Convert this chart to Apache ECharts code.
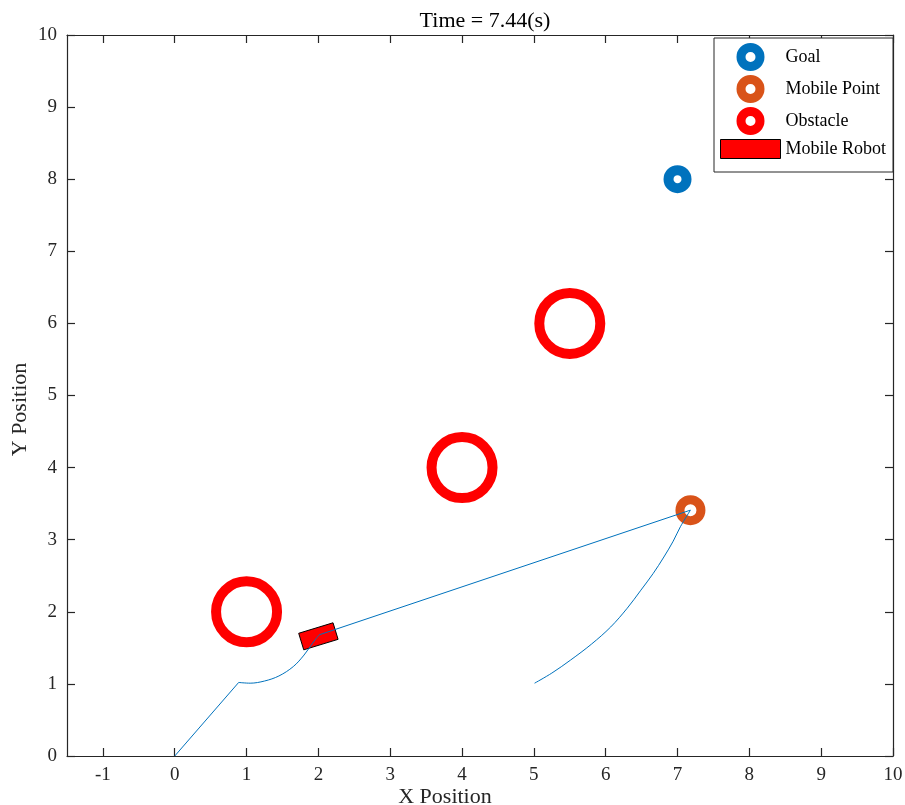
<!DOCTYPE html>
<html lang="en">
<head>
  <meta charset="UTF-8">
  <title>Time = 7.44(s)</title>
  <script type="text/javascript" src="https://cdn.jsdelivr.net/npm/echarts@6/dist/echarts.min.js"></script>
  <style>
    html, body { margin: 0; padding: 0; background: #fff; }
    #target { width: 905px; height: 805px; }
  </style>
</head>
<body>
  <div id="target"></div>
  <script type="text/javascript">
    // data
    const goal = [[7, 8]];
    const mobilePoint = [[7.18, 3.41]];
    const obstacles = [[1, 2], [4, 4], [5.5, 6]];
    // robot: x, y, heading (deg), length, width
    const robot = [[2.0, 1.66, 17, 0.5, 0.24]];
    const robotLeg1 = [[0, 0], [0.89, 1.02]];
    const robotCurve = [[0.89, 1.02], [1.05, 1.01], [1.25, 1.04], [1.45, 1.11], [1.65, 1.24],
      [1.8, 1.4], [1.93, 1.58], [2.01, 1.68]];
    const robotLeg2 = [[2.01, 1.68], [7.18, 3.41]];
    const pointPath = [[5.01, 1.01], [5.25, 1.15], [5.51, 1.33], [5.8, 1.55], [6.07, 1.79],
      [6.3, 2.05], [6.49, 2.3], [6.66, 2.53], [6.81, 2.76], [6.94, 2.98], [7.04, 3.18], [7.18, 3.41]];
    const xMin = -1.5, xMax = 10, xFirstTick = -1;

    const font = 'Liberation Serif';
    const axisColor = '#262626';
    const gridLeft = 67, gridRight = 12;
    // second grid starts where the first integer tick sits
    const plotW = 905 - gridLeft - gridRight;
    const tickGridLeft = gridLeft + (xFirstTick - xMin) / (xMax - xMin) * plotW;

    function renderRobot(params, api) {
      const c = api.coord([api.value(0), api.value(1)]);
      const s = api.size([api.value(3), api.value(4)]);
      const a = api.value(2) * Math.PI / 180;
      const hl = s[0] / 2, hw = s[1] / 2;
      const ux = Math.cos(a), uy = -Math.sin(a);
      const vx = Math.sin(a), vy = Math.cos(a);
      const pts = [
        [c[0] - ux * hl - vx * hw, c[1] - uy * hl - vy * hw],
        [c[0] + ux * hl - vx * hw, c[1] + uy * hl - vy * hw],
        [c[0] + ux * hl + vx * hw, c[1] + uy * hl + vy * hw],
        [c[0] - ux * hl + vx * hw, c[1] - uy * hl + vy * hw]
      ];
      return {
        type: 'polygon',
        shape: { points: pts },
        style: { fill: '#FF0000', stroke: '#000', lineWidth: 1 }
      };
    }

    const lineStyle = { color: axisColor, width: 1.2 };
    const tickStyle = { show: true, inside: true, length: 8, lineStyle: lineStyle };
    const labelStyle = { fontFamily: font, fontSize: 19, color: axisColor, margin: 10 };
    const nameStyle = { fontFamily: font, fontSize: 22, color: axisColor };

    const pathLine = data => ({
      type: 'line', data: data, showSymbol: false, silent: true, smooth: 0.35,
      lineStyle: { color: '#0072BD', width: 1 }, z: 1
    });

    const option = {
      animation: false,
      backgroundColor: '#fff',
      title: {
        text: 'Time = 7.44(s)',
        left: 480, top: 5, textAlign: 'center',
        textStyle: { fontFamily: font, fontSize: 22, fontWeight: 'normal', color: '#000' }
      },
      grid: [
        { left: gridLeft, right: gridRight, top: 35, bottom: 49, outerBoundsMode: 'none', containLabel: false },
        { left: tickGridLeft, right: gridRight, top: 35, bottom: 49, outerBoundsMode: 'none', containLabel: false }
      ],
      legend: {
        orient: 'vertical',
        left: 714, top: 38,
        padding: [5, 7, 13, 6],
        itemWidth: 60, itemHeight: 19, itemGap: 4,
        backgroundColor: '#fff',
        borderColor: axisColor, borderWidth: 1, borderRadius: 0,
        textStyle: { fontFamily: font, fontSize: 18, color: '#000' },
        data: [
          { name: 'Goal', icon: 'circle', itemStyle: { color: '#fff', borderColor: '#0072BD', borderWidth: 9 } },
          { name: 'Mobile Point', icon: 'circle', itemStyle: { color: '#fff', borderColor: '#D95319', borderWidth: 9 } },
          { name: 'Obstacle', icon: 'circle', itemStyle: { color: '#fff', borderColor: '#FF0000', borderWidth: 9 } },
          { name: 'Mobile Robot', icon: 'rect', itemStyle: { color: '#FF0000', borderColor: '#000', borderWidth: 1 } }
        ]
      },
      xAxis: [
        // data axes (lines only)
        { type: 'value', gridIndex: 0, min: xMin, max: xMax, position: 'bottom',
          axisLine: { show: true, onZero: false, lineStyle: lineStyle },
          axisTick: { show: false }, axisLabel: { show: false }, splitLine: { show: false } },
        { type: 'value', gridIndex: 0, min: xMin, max: xMax, position: 'top',
          axisLine: { show: true, onZero: false, lineStyle: lineStyle },
          axisTick: { show: false }, axisLabel: { show: false }, splitLine: { show: false } },
        // tick axes starting at the first integer tick
        { type: 'value', gridIndex: 1, min: xFirstTick, max: xMax, interval: 1, position: 'bottom',
          axisLine: { show: false, onZero: false }, axisTick: tickStyle,
          axisLabel: labelStyle,
          splitLine: { show: false },
          name: 'X Position', nameLocation: 'middle', nameGap: 30, nameMoveOverlap: false,
          nameTextStyle: Object.assign({}, nameStyle, { padding: [0, 106, 0, 0] }) },
        { type: 'value', gridIndex: 1, min: xFirstTick, max: xMax, interval: 1, position: 'top',
          axisLine: { show: false, onZero: false }, axisTick: tickStyle, axisLabel: { show: false },
          splitLine: { show: false } }
      ],
      yAxis: [
        { type: 'value', gridIndex: 0, min: 0, max: 10, interval: 1, position: 'left',
          axisLine: { show: true, onZero: false, lineStyle: lineStyle }, axisTick: tickStyle,
          axisLabel: labelStyle, splitLine: { show: false },
          name: 'Y Position', nameLocation: 'middle', nameGap: 36, nameMoveOverlap: false,
          nameTextStyle: Object.assign({}, nameStyle, { padding: [0, 28, 0, 0] }) },
        { type: 'value', gridIndex: 0, min: 0, max: 10, interval: 1, position: 'right',
          axisLine: { show: true, onZero: false, lineStyle: lineStyle }, axisTick: tickStyle,
          axisLabel: { show: false }, splitLine: { show: false } },
        { type: 'value', gridIndex: 1, min: 0, max: 10, show: false }
      ],
      series: [
        Object.assign(pathLine(robotLeg1), { name: 'leg1', smooth: false }),
        Object.assign(pathLine(robotCurve), { name: 'curve' }),
        Object.assign(pathLine(robotLeg2), { name: 'leg2', smooth: false }),
        Object.assign(pathLine(pointPath), { name: 'pointPath' }),
        {
          name: 'Goal', type: 'scatter', data: goal, symbolSize: 18,
          itemStyle: { color: '#fff', borderColor: '#0072BD', borderWidth: 10, opacity: 1 }, z: 2
        },
        {
          name: 'Mobile Point', type: 'scatter', data: mobilePoint, symbolSize: 21,
          itemStyle: { color: 'rgba(255,255,255,0)', borderColor: '#D95319', borderWidth: 9, opacity: 1 }, z: 0
        },
        {
          name: 'Obstacle', type: 'scatter', data: obstacles, symbolSize: 61,
          itemStyle: { color: 'rgba(255,255,255,0)', borderColor: '#FF0000', borderWidth: 10, opacity: 1 }, z: 2
        },
        {
          name: 'Mobile Robot', type: 'custom', data: robot, renderItem: renderRobot,
          encode: { x: 0, y: 1 }, z: 0
        }
      ]
    };
    echarts.init(document.getElementById('target')).setOption(option);
  </script>
</body>
</html>
